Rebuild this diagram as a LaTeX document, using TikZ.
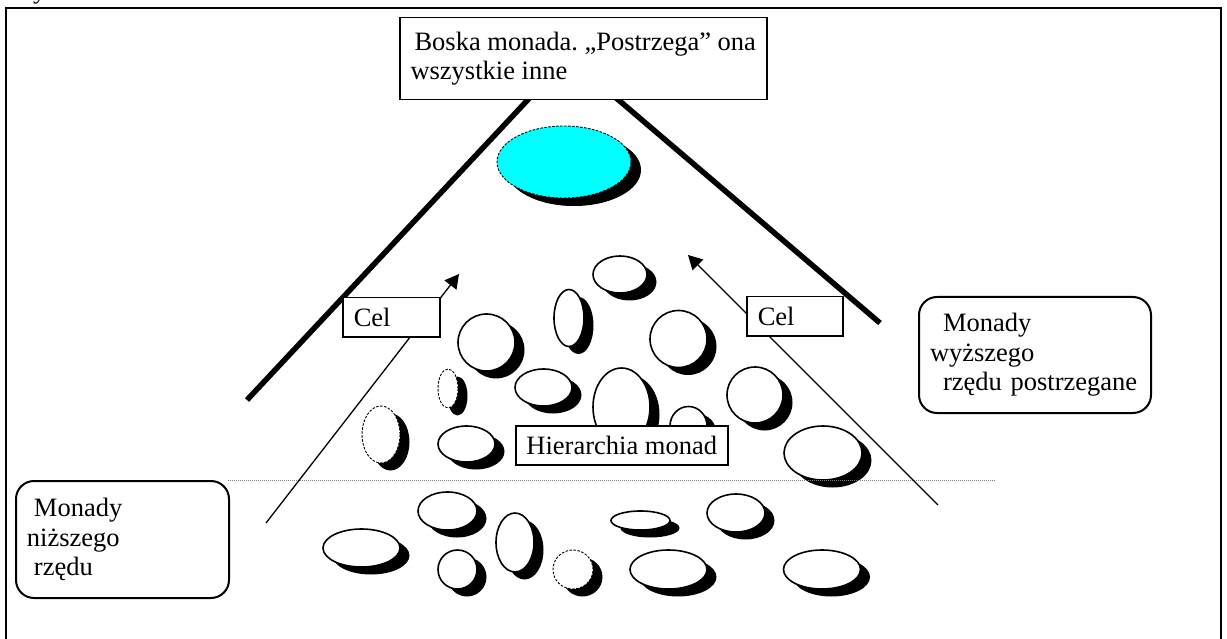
\documentclass[tikz,border=0pt]{standalone}
\usepackage{fontspec}
\setmainfont{Liberation Serif}
\usetikzlibrary{shapes.geometric,shadows,arrows.meta}
\definecolor{monadcyan}{RGB}{0,255,255}
\tikzset{
  txt/.style={font=\fontsize{26.5}{29.5}\selectfont},
  txtbox/.style={txt, draw, fill=white, line width=1.5pt, anchor=north west, align=left, inner ysep=0pt},
  roundbox/.style={txtbox, rounded corners=18pt, line width=2pt},
  sz/.style 2 args={minimum width=#1pt, minimum height=#2pt},
  monad/.style={ellipse, draw, fill=white, line width=1.6pt, inner sep=0pt, outer sep=0pt,
    drop shadow={shadow xshift=9.5pt, shadow yshift=-7.5pt, fill=black, opacity=1}},
  dmonad/.style={monad, line width=0.9pt, dash pattern=on 2.5pt off 1.5pt},
  thickline/.style={line width=5.5pt},
  thinarrow/.style={line width=1.3pt, -{Triangle[length=14pt,width=15pt]}},
  divider/.style={line width=0.9pt, gray, dash pattern=on 1pt off 1pt}
}
\begin{document}
\frenchspacing
\begin{tikzpicture}[x=1pt,y=-1pt]
\useasboundingbox (0,0) rectangle (1227,639);

% outer frame
\draw[line width=2pt] (6,639) -- (6,8) -- (1221,8) -- (1221,639);
\node[txt, anchor=base west, inner sep=0pt] (ytop) at (33,-1) {y};

% pyramid thick lines
\coordinate (pl0) at (537,90);
\coordinate (pl1) at (247,400);
\coordinate (pr0) at (608,91);
\coordinate (pr1) at (880,323);
\draw[thickline] (pl0) -- (pl1);
\draw[thickline] (pr0) -- (pr1);

% top box
\node[txtbox, minimum width=367pt, inner xsep=4pt, minimum height=82pt] (top) at (399,17)
  {\hspace*{4pt}Boska monada. „Postrzega” ona\\wszystkie inne};

% divine monad
\node[monad, fill=monadcyan, line width=0.9pt, dash pattern=on 2.5pt off 1.5pt, sz={134}{72},
  drop shadow={shadow xshift=10pt, shadow yshift=-8pt, fill=black, opacity=1}] (boska) at (564,162) {};

% higher monads
\node[monad, sz={54}{37}] (m1) at (620,274.5) {};
\node[monad, sz={30}{57}] (m2) at (569,318) {};
\node[monad, sz={57}{57}] (m3) at (486.5,342.5) {};
\node[monad, sz={57}{57}] (m4) at (678.5,339) {};
\node[dmonad, sz={20}{39}] (m5) at (448,388.5) {};
\node[monad, sz={57}{37}] (m6) at (543.5,387.5) {};
\node[monad, sz={57}{78}] (m7) at (621.5,407) {};
\node[monad, sz={37}{39}] (m8) at (688.5,426) {};
\node[monad, sz={56}{56}] (m9) at (755,395) {};
\node[dmonad, sz={38}{57}] (m10) at (381,434.5) {};
\node[monad, sz={57}{36}] (m11) at (466.5,444) {};
\node[monad, sz={78}{54}] (m12) at (823,453) {};

% lower monads
\node[monad, sz={77}{38}] (la) at (361.5,548) {};
\node[monad, sz={59}{38}] (lb) at (447.5,511) {};
\node[monad, sz={39}{39}] (lc) at (457.5,569.5) {};
\node[monad, sz={38}{59}] (ld) at (515,542.5) {};
\node[dmonad, sz={40}{39}] (le) at (573,569.5) {};
\node[monad, sz={59}{19}] (lf) at (640.5,520.5) {};
\node[monad, sz={58}{38}] (lg) at (736,513) {};
\node[monad, sz={77}{39}] (lh) at (668.5,569.5) {};
\node[monad, sz={77}{39}] (li) at (822,569.5) {};

% divider
\coordinate (dv0) at (228,480.5);
\coordinate (dv1) at (995,480.5);
\draw[divider] (dv0) -- (dv1);

% goal arrows
\coordinate (al0) at (266,523);
\coordinate (al1) at (459,274);
\coordinate (ar0) at (938,505);
\coordinate (ar1) at (688,255);
\draw[thinarrow] (al0) -- (al1);
\draw[thinarrow] (ar0) -- (ar1);

% labels
\node[txtbox, text width=75pt, inner xsep=11pt, minimum height=39pt] (celL) at (342,297) {Cel};
\node[txtbox, text width=74pt, inner xsep=11pt, minimum height=39pt] (celR) at (746,296) {Cel};
\node[txtbox, minimum width=212pt, inner xsep=8pt, minimum height=39pt, align=center] (hier) at (515,425) {Hierarchia monad};

\node[roundbox, text width=191pt, inner xsep=11pt, minimum height=117pt] (nizsze) at (15,480)
  {\hspace*{7pt}Monady\\niższego\\\hspace*{7pt}rzędu};
\node[roundbox, text width=210pt, inner xsep=11pt, minimum height=116pt] (wyzsze) at (918,296)
  {\hspace*{13pt}Monady\\wyższego\\\hspace*{13pt}rzędu postrzegane};
\end{tikzpicture}
\end{document}
